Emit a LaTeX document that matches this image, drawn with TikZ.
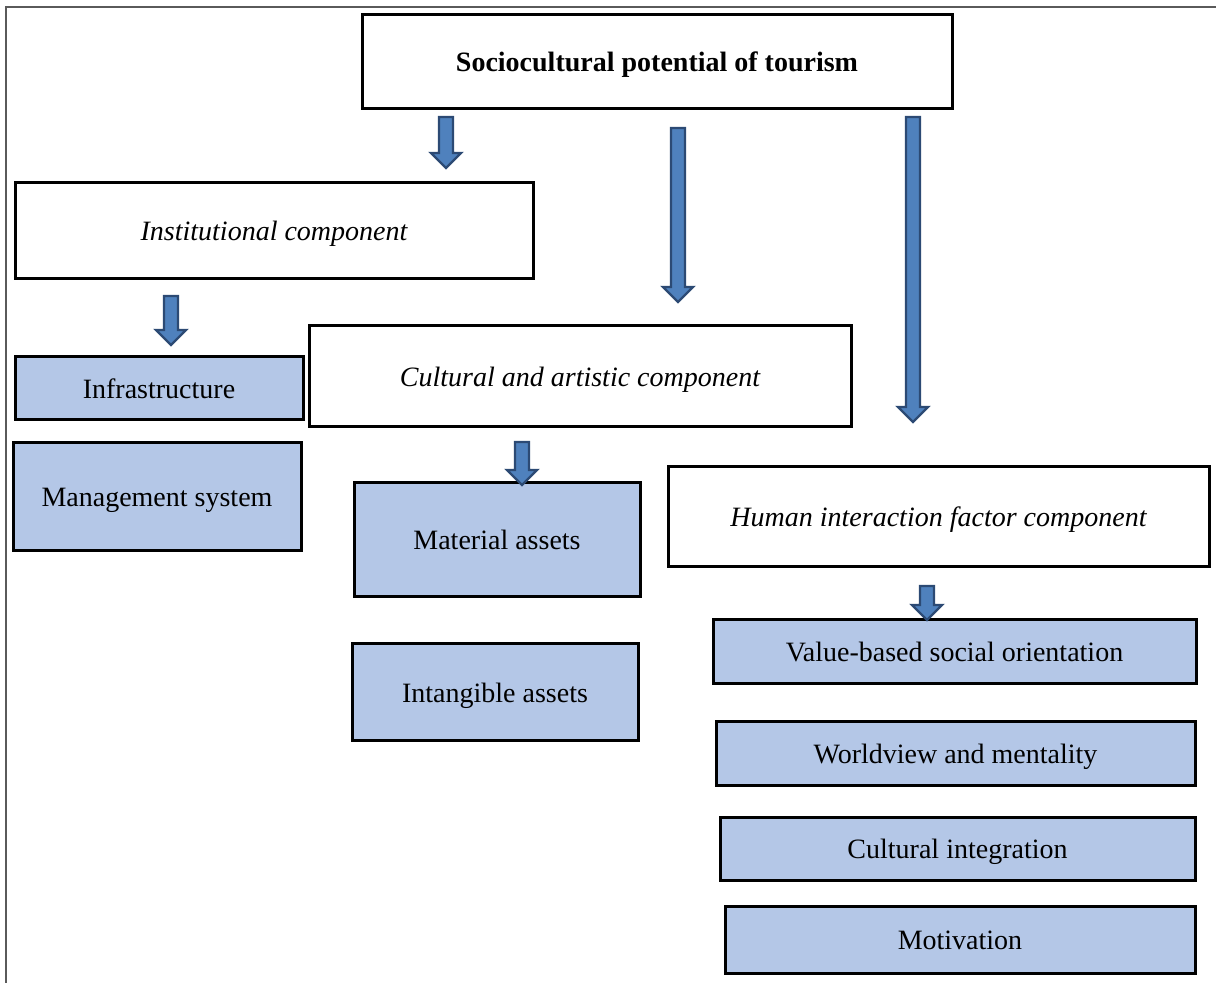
\documentclass[tikz,border=0pt]{standalone}
\usepackage{fontspec}
\setmainfont{Liberation Serif}
\definecolor{boxblue}{HTML}{B4C7E7}
\definecolor{arrowblue}{HTML}{4F81BD}
\definecolor{arrowedge}{HTML}{2C4A74}
\definecolor{framegray}{HTML}{5A5A5A}
\tikzset{
  basebox/.style={draw=black, line width=1.5pt, rectangle, inner sep=0pt, text height=12pt, text depth=2pt, font=\fontsize{14}{16}\selectfont, text=black},
  whitebox/.style={basebox, fill=white},
  bluebox/.style={basebox, fill=boxblue},
  blockarrow/.style={fill=arrowblue, draw=arrowedge, line width=1.2pt, line join=miter}
}
\newcommand{\barrow}[3]{% center x, top y, tip y
  \path[blockarrow] (#1-7,#2) -- (#1+7,#2) -- (#1+7,#3-15) -- (#1+15,#3-15) -- (#1,#3) -- (#1-15,#3-15) -- (#1-7,#3-15) -- cycle;
}
\begin{document}
\begin{tikzpicture}[x=0.5pt,y=-0.5pt]
\useasboundingbox (0,0) rectangle (1216,983);
\fill[white] (0,0) rectangle (1216,983);
\draw[framegray, line width=0.9pt] (6,983) -- (6,7) -- (1216,7);

\node[whitebox, minimum width=295pt, minimum height=47pt, font=\fontsize{14}{16}\selectfont\bfseries] (top) at (657,62) {Sociocultural potential of tourism};
\node[whitebox, minimum width=259pt, minimum height=48pt] (inst) at (274,231) {\itshape Institutional component};
\node[whitebox, minimum width=271pt, minimum height=50.5pt] (cult) at (580,376.5) {\itshape Cultural and artistic component};
\node[whitebox, minimum width=270.5pt, minimum height=50pt] (human) at (938.5,517) {\itshape Human interaction factor component};

\node[bluebox, minimum width=144pt, minimum height=31.5pt] (infra) at (159,388.5) {Infrastructure};
\node[bluebox, minimum width=144pt, minimum height=54pt] (mgmt) at (157,497) {Management system};
\node[bluebox, minimum width=143pt, minimum height=57pt] (mat) at (497,540) {Material assets};
\node[bluebox, minimum width=143pt, minimum height=48.5pt] (intang) at (495,692.5) {Intangible assets};
\node[bluebox, minimum width=241.5pt, minimum height=32pt] (value) at (954.5,652) {Value-based social orientation};
\node[bluebox, minimum width=239.5pt, minimum height=31.5pt] (world) at (955.5,753.5) {Worldview and mentality};
\node[bluebox, minimum width=237.5pt, minimum height=31.5pt] (cultint) at (957.5,848.5) {Cultural integration};
\node[bluebox, minimum width=235pt, minimum height=33.5pt] (motiv) at (960,939.5) {Motivation};

\barrow{446}{117}{168}
\barrow{678}{128}{302}
\barrow{913}{117}{422}
\barrow{171}{296}{345}
\barrow{522}{442}{485}
\barrow{927}{586}{620}
\end{tikzpicture}
\end{document}
